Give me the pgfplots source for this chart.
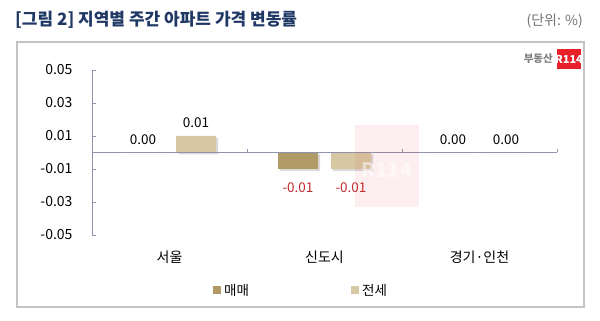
\documentclass[border=0pt]{standalone}
\usepackage{fontspec}
\setmainfont{Noto Sans CJK KR}
\usepackage{pgfplots}
\pgfplotsset{compat=1.18}
\usetikzlibrary{shadows}
\definecolor{maemae}{HTML}{B09A66}
\definecolor{jeonse}{HTML}{D6C8A3}
\definecolor{axisc}{HTML}{8E94B0}
\definecolor{titlec}{HTML}{203864}
\definecolor{labred}{HTML}{C0282D}
\definecolor{framec}{HTML}{C4C4C4}
\definecolor{logored}{HTML}{E8202A}
\begin{document}
\begin{tikzpicture}[x=1pt,y=1pt]
\path[use as bounding box] (0,0) rectangle (600,321);
\draw[framec, line width=1.5pt] (17,279) rectangle (584,14);
\node[anchor=base west, font=\fontsize{17}{19}\selectfont\bfseries, text=titlec, inner sep=0] at (15,295) {[그림 2] 지역별 주간 아파트 가격 변동률};
\node[anchor=base east, font=\fontsize{14}{16}\selectfont, text=black!55, inner sep=0] at (583,295) {(단위: \%)};
% logo
\fill[logored] (557,252) rectangle (581,272);
\node[text=white, font=\fontsize{11}{12}\selectfont\bfseries, inner sep=0] at (569,262) {R114};
\node[text=black!50, font=\fontsize{10.5}{12}\selectfont\bfseries, inner sep=0, anchor=east] at (553,262) {부동산};
\begin{axis}[
  at={(169.5pt,168.5pt)}, anchor=origin, scale only axis,
  width=465pt, height=165pt,
  xmin=-0.5, xmax=2.5, ymin=-0.05, ymax=0.05,
  axis y line*=left, axis x line=none,
  ytick={-0.05,-0.03,-0.01,0.01,0.03,0.05},
  scaled y ticks=false,
  /pgf/number format/assume math mode=true,
  yticklabel style={/pgf/number format/fixed, /pgf/number format/fixed zerofill, /pgf/number format/precision=2, font=\fontsize{14}{16}\selectfont, xshift=-16pt},
  y axis line style={axisc, line width=0.8pt},
  ytick style={axisc, line width=0.8pt},
  tick align=inside, major tick length=4pt,
  clip=false,
  ybar=13pt, bar width=40pt,
  visualization depends on={rawy \as \rawy},
  nodes near coords={\pgfmathfloatifflags{\pgfplotspointmeta}{-}{\color{labred}}{}\pgfmathprintnumber[fixed,fixed zerofill,precision=2]{\pgfplotspointmeta}},
  every node near coord/.append style={font=\fontsize{13.5}{15}\selectfont, text=black, inner ysep=8pt, yshift={ifthenelse(\rawy<0,-6,0)}},
]
\addplot[fill=maemae, draw=none,
  drop shadow={shadow xshift=2pt, shadow yshift=-2pt, opacity=0.3}]
  coordinates {(0,0.00) (1,-0.01) (2,0.00)};
\addplot[fill=jeonse, draw=none,
  drop shadow={shadow xshift=2pt, shadow yshift=-2pt, opacity=0.3}]
  coordinates {(0,0.01) (1,-0.01) (2,0.00)};
\draw[axisc, line width=0.8pt] (axis cs:-0.5,0) -- (axis cs:2.5,0);
\draw[axisc, line width=0.8pt] (axis cs:0.5,0) -- (axis cs:0.5,0.0024);
\draw[axisc, line width=0.8pt] (axis cs:1.5,0) -- (axis cs:1.5,0.0024);
\draw[axisc, line width=0.8pt] (axis cs:2.5,0) -- (axis cs:2.5,0.0024);
\end{axis}
% faint watermark
\fill[logored, opacity=0.07] (355,196) rectangle (419,114);
\node[text=white, opacity=0.5, font=\fontsize{20}{22}\selectfont\bfseries] at (387,151) {R114};
% category labels
\node[font=\fontsize{14}{16}\selectfont, inner sep=0] at (169.5,64) {서울};
\node[font=\fontsize{14}{16}\selectfont, inner sep=0] at (324.5,64) {신도시};
\node[font=\fontsize{14}{16}\selectfont, inner sep=0] at (479.5,64) {경기·인천};
% legend
\fill[maemae] (213,27) rectangle (221,35);
\node[anchor=west, font=\fontsize{13.5}{15}\selectfont, inner sep=0] at (224,31) {매매};
\fill[jeonse] (351,27) rectangle (359,35);
\node[anchor=west, font=\fontsize{13.5}{15}\selectfont, inner sep=0] at (362,31) {전세};
\end{tikzpicture}
\end{document}
